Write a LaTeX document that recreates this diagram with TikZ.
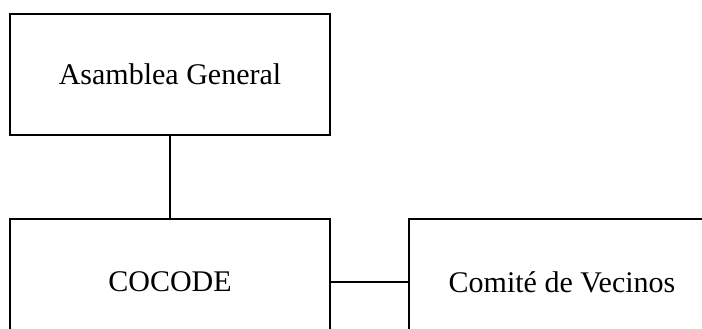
\documentclass[tikz,border=0pt]{standalone}
\usepackage{fontspec}
\setmainfont{Liberation Serif}
\usepackage{tikz}
\usetikzlibrary{positioning}
\tikzset{orgbox/.style = {draw, line width=1pt, minimum width=160pt,
                          minimum height=60.5pt, inner sep=0pt,
                          font=\fontsize{15}{18}\selectfont}}

\begin{document}
\begin{tikzpicture}[x=1pt, y=1pt]
      \clip (0, 0) rectangle (351, 164);

      \node [orgbox] (asamblea) at (85, 126.75) {Asamblea General};
      \node [orgbox, minimum height=63pt] (cocode) at (85, 23) {COCODE};
      \node [orgbox, minimum height=63pt, minimum width=153pt] (comite) at (281, 23) {Comit\'e de Vecinos};

      \draw [line width=1pt] (asamblea.south) -- (cocode.north);
      \draw [line width=1pt] (cocode.east) -- (comite.west);
    \end{tikzpicture}
\end{document}
